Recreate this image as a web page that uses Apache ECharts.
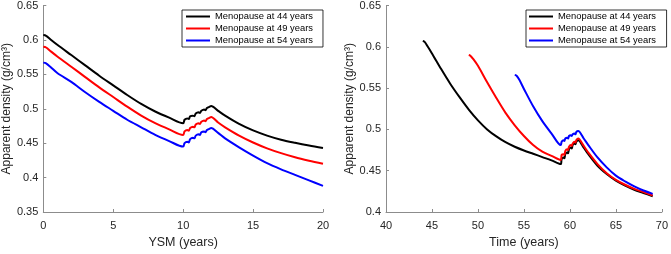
<!DOCTYPE html>
<html>
<head>
<meta charset="utf-8">
<script src="https://cdn.jsdelivr.net/npm/echarts@6/dist/echarts.min.js"></script>
<style>
  html, body { margin: 0; padding: 0; background: #fff; }
  #chart { width: 671px; height: 254px; }
</style>
</head>
<body>
<div id="chart"></div>
<script>
// names of the three scenarios
var seriesNames = ['Menopause at 44 years', 'Menopause at 49 years', 'Menopause at 54 years'];
var seriesColors = ['#000000', '#ff0000', '#0000ff'];

// left panel: density vs years since menopause
var leftYsm = [0, 0.2, 0.5, 1, 2, 3, 4, 5, 6, 7, 8, 9, 10,
  10.1, 10.3, 10.4, 10.5, 10.7, 10.8, 10.9, 11.1, 11.2, 11.3, 11.5, 11.6, 11.7, 11.9, 12,
  12.5, 13, 14, 15, 16, 17, 18, 19, 20];
var left44 = [0.607, 0.606, 0.601, 0.593, 0.578, 0.563, 0.548, 0.534, 0.520, 0.507, 0.496, 0.487, 0.479,
  0.484, 0.486, 0.485, 0.489, 0.490, 0.489, 0.493, 0.495, 0.494, 0.497, 0.499, 0.498, 0.501, 0.503, 0.504,
  0.497, 0.490, 0.478, 0.4685, 0.461, 0.455, 0.4505, 0.4465, 0.443];
var left49 = [0.590, 0.589, 0.584, 0.576, 0.561, 0.546, 0.531, 0.517, 0.503, 0.490, 0.479, 0.470, 0.462,
  0.467, 0.469, 0.468, 0.472, 0.474, 0.473, 0.477, 0.479, 0.478, 0.481, 0.483, 0.482, 0.485, 0.487, 0.488,
  0.480, 0.473, 0.461, 0.451, 0.4425, 0.4355, 0.4295, 0.4245, 0.420];
var left54 = [0.567, 0.566, 0.561, 0.552, 0.539, 0.524, 0.510, 0.497, 0.484, 0.473, 0.462, 0.453, 0.445,
  0.450, 0.452, 0.451, 0.456, 0.458, 0.457, 0.461, 0.463, 0.462, 0.466, 0.467, 0.466, 0.469, 0.471, 0.472,
  0.465, 0.457, 0.444, 0.432, 0.421, 0.412, 0.404, 0.396, 0.388];

// right panel: density vs age
var bumpAge = [59, 59.1, 59.3, 59.4, 59.5, 59.7, 59.8, 59.9, 60.1, 60.2, 60.3, 60.5, 60.6, 60.7, 60.9,
  61.5, 62, 63, 64, 65, 66, 67, 68, 69];
var right44Age = [44, 44.2, 44.5, 45, 46, 47, 48, 49, 50, 51, 52, 53, 54, 55, 56, 57, 58].concat(bumpAge);
var right44 = [0.607, 0.606, 0.601, 0.592, 0.573, 0.555, 0.539, 0.524, 0.511, 0.500, 0.4915, 0.4845, 0.479, 0.4745, 0.4705, 0.4665, 0.4625,
  0.458, 0.464, 0.466, 0.465, 0.470, 0.472, 0.471, 0.476, 0.478, 0.477, 0.481, 0.483, 0.482, 0.485, 0.487,
  0.478, 0.470, 0.456, 0.446, 0.438, 0.432, 0.427, 0.423, 0.419];
var right49Age = [49, 49.2, 49.5, 50, 51, 52, 53, 54, 55, 56, 57, 58].concat(bumpAge);
var right49 = [0.590, 0.589, 0.585, 0.577, 0.557, 0.538, 0.520, 0.505, 0.492, 0.481, 0.473, 0.468,
  0.463, 0.469, 0.470, 0.469, 0.474, 0.476, 0.475, 0.479, 0.481, 0.480, 0.483, 0.485, 0.484, 0.487, 0.489,
  0.480, 0.472, 0.458, 0.447, 0.439, 0.433, 0.428, 0.424, 0.420];
var right54Age = [54, 54.2, 54.5, 55, 56, 57, 58].concat(bumpAge);
var right54 = [0.566, 0.565, 0.560, 0.549, 0.528, 0.510, 0.495,
  0.481, 0.485, 0.487, 0.486, 0.489, 0.490, 0.489, 0.492, 0.493, 0.492, 0.494, 0.495, 0.494, 0.497, 0.498,
  0.489, 0.481, 0.466, 0.454, 0.444, 0.437, 0.431, 0.426, 0.422];

function pairs(xs, ys) {
  return xs.map(function (x, i) { return [x, ys[i]]; });
}

var axisColor = '#262626';
var lineGray = '#8c8c8c';
var font = 'Liberation Sans, Arial, sans-serif';

function xAxisCfg(grid, name, min, max) {
  return {
    type: 'value', gridIndex: grid, min: min, max: max, interval: 5,
    name: name, nameLocation: 'middle', nameGap: 24,
    nameTextStyle: { color: axisColor, fontSize: 12.5, fontFamily: font },
    axisLine: { lineStyle: { color: lineGray, width: 1 } },
    axisTick: { inside: true, length: 3, lineStyle: { color: lineGray } },
    axisLabel: { color: axisColor, fontSize: 11, fontFamily: font, margin: 8 },
    splitLine: { show: false }
  };
}
function yAxisCfg(grid, min, max) {
  return {
    type: 'value', gridIndex: grid, min: min, max: max, interval: 0.05,
    name: 'Apparent density (g/cm³)', nameLocation: 'middle', nameGap: 22,
    nameTextStyle: { color: axisColor, fontSize: 12, fontFamily: font },
    axisLine: { show: true, lineStyle: { color: lineGray, width: 1 } },
    axisTick: { show: true, inside: true, length: 3, lineStyle: { color: lineGray } },
    axisLabel: { color: axisColor, fontSize: 11, fontFamily: font, margin: 5 },
    splitLine: { show: false }
  };
}
function legendCfg(names, left, pad) {
  return {
    data: names, orient: 'vertical', left: left, top: 10,
    itemWidth: 24, itemHeight: 10, itemGap: 3, padding: pad,
    borderColor: '#000', borderWidth: 0.8, backgroundColor: '#fff',
    icon: 'path://M0,4 L24,4 L24,6 L0,6 Z',
    textStyle: { color: '#000', fontSize: 9.4, fontFamily: font },
    selectedMode: false
  };
}
function line(name, grid, xs, ys, color) {
  return {
    name: name, type: 'line', xAxisIndex: grid, yAxisIndex: grid,
    data: pairs(xs, ys), showSymbol: false, symbol: 'none',
    smooth: 0.3,
    lineStyle: { color: color, width: 2 }, itemStyle: { color: color },
    animation: false
  };
}

var leftNames = seriesNames;
var rightNames = seriesNames.map(function (n) { return n + ' '; });

var myChart = echarts.init(document.getElementById('chart'));
var option = {
  animation: false,
  grid: [
    { left: 42, top: 4, width: 281, height: 217 },
    { left: 386, top: 4, width: 279, height: 217 }
  ],
  xAxis: [xAxisCfg(0, 'YSM (years)', 0, 20), xAxisCfg(1, 'Time (years)', 40, 70)],
  yAxis: [yAxisCfg(0, 0.35, 0.65), yAxisCfg(1, 0.4, 0.65)],
  legend: [
    legendCfg(leftNames, 182, [2, 10, 2, 4]),
    legendCfg(rightNames, 526, [2, 8, 2, 3])
  ],
  series: [
    line(leftNames[0], 0, leftYsm, left44, seriesColors[0]),
    line(leftNames[1], 0, leftYsm, left49, seriesColors[1]),
    line(leftNames[2], 0, leftYsm, left54, seriesColors[2]),
    line(rightNames[0], 1, right44Age, right44, seriesColors[0]),
    line(rightNames[1], 1, right49Age, right49, seriesColors[1]),
    line(rightNames[2], 1, right54Age, right54, seriesColors[2])
  ]
};
myChart.setOption(option);
</script>
</body>
</html>
